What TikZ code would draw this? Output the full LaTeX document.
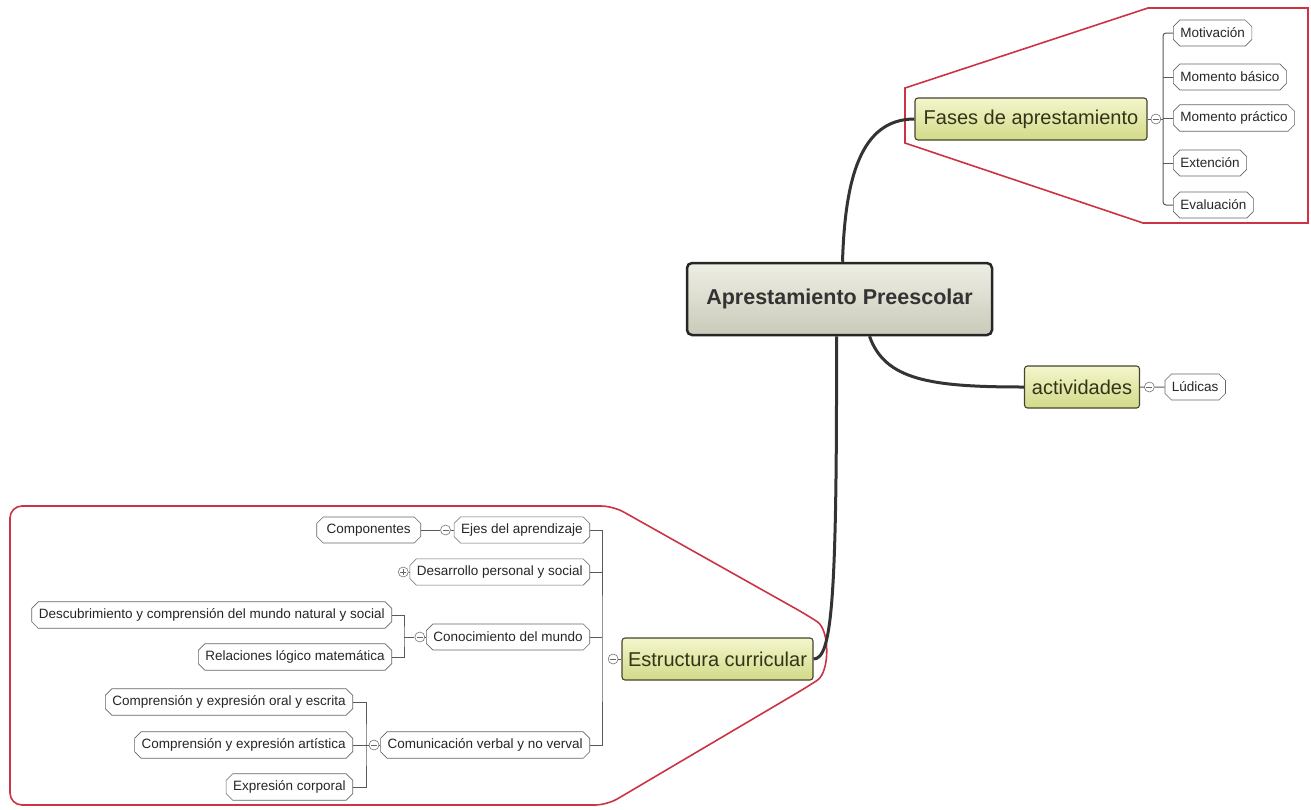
\documentclass[tikz,border=0pt]{standalone}
\usepackage{fontspec}
\setmainfont{Liberation Sans}
\usetikzlibrary{positioning}
\usetikzlibrary{shapes.misc, calc}
\definecolor{redline}{HTML}{CC3344}
\definecolor{olivetext}{HTML}{33331A}
\definecolor{maintop}{HTML}{F4F6CC}
\definecolor{mainbottom}{HTML}{D2DA88}
\definecolor{roottop}{HTML}{EEEEE4}
\definecolor{rootbottom}{HTML}{CACABA}

\begin{document}
\begin{tikzpicture}[x=1pt,y=-1pt,semithick]
 \tikzstyle{root node}=[rectangle,rounded corners=5pt,draw=black!85,line width=2.5pt,top color=roottop,bottom color=rootbottom,text=black!80,font=\bfseries\fontsize{21.5}{26}\selectfont,minimum height=72pt,minimum width=305pt]
 \tikzstyle{main node}=[rectangle,rounded corners=3pt,draw=black!65!olive,line width=1.1pt,top color=maintop,bottom color=mainbottom,text=olivetext,font=\fontsize{20}{24}\selectfont,minimum height=42pt]
 \tikzstyle{leaf node}=[chamfered rectangle,chamfered rectangle xsep=3pt,draw=black!60,fill=white,text=black!85,font=\fontsize{13.5}{16}\selectfont,inner xsep=4pt,minimum height=26pt]
 \tikzset{
 	minus node/.style={circle,draw=black!55,fill=white,inner sep=0,minimum size=10pt,
 	  path picture={\draw[black!60] ([xshift=2pt]path picture bounding box.west) -- ([xshift=-2pt]path picture bounding box.east);}},
 	plus node/.style={minus node,
 	  path picture={\draw[black!60] ([xshift=2pt]path picture bounding box.west) -- ([xshift=-2pt]path picture bounding box.east)
 	    ([yshift=-2pt]path picture bounding box.north) -- ([yshift=2pt]path picture bounding box.south);}},
 	branch/.style={draw=black!65,line width=1pt},
 	trunk/.style={draw=black!80,line width=3pt},
 	group line/.style={draw=redline,line width=1.6pt}
 }
 \useasboundingbox (0,0) rectangle (1311,809);

       \draw[group line] (905,143) -- (905,88) -- (1148,8) -- (1308,8) -- (1308,223) -- (1143,223) -- cycle;
       \draw[group line,rounded corners=12pt] (613,506) -- (10,506) -- (10,805) -- (607,805) -- (807,687)
          .. controls (830,672) and (830,630) .. (807,615) -- cycle;

       \node[root node] (root) at (839.5,299) {Aprestamiento Preescolar};
       \node[main node,minimum width=232pt] (fases) at (1031,119) {Fases de aprestamiento};
       \node[main node,minimum width=115pt] (activ) at (1082,387) {actividades};
       \node[main node,minimum width=191pt] (estruc) at (717.5,659) {Estructura curricular};

       \node[minus node] (mf) [right=3pt of fases] {};
       \node[minus node] (ma) [right=4pt of activ] {};
       \node[minus node] (me) [left=3pt of estruc] {};

       \node[leaf node,anchor=west] (f1) at (1173,33) {Motivación};
       \node[leaf node,anchor=west] (f2) at (1173,77) {Momento básico};
       \node[leaf node,anchor=west] (f3) at (1173,118) {Momento práctico};
       \node[leaf node,anchor=west] (f4) at (1173,163) {Extención};
       \node[leaf node,anchor=west] (f5) at (1173,205) {Evaluación};
       \node[leaf node] (lud) [right=10pt of ma] {Lúdicas};

       \node[leaf node,anchor=east] (ejes) at (590,530) {Ejes del aprendizaje};
       \node[leaf node,anchor=east] (desa) at (590,572) {Desarrollo personal y social};
       \node[leaf node,anchor=east] (cono) at (590,637) {Conocimiento del mundo};
       \node[leaf node,anchor=east] (comu) at (590,745) {Comunicación verbal y no verval};

       \node[minus node] (mej) [left=3pt of ejes] {};
       \node[plus node] (mde) [left=1pt of desa] {};
       \node[minus node] (mco) [left=1pt of cono] {};
       \node[minus node] (mcm) [left=1pt of comu] {};

       \node[leaf node,anchor=east,minimum width=104pt] (compo) at (421,530) {Componentes};
       \node[leaf node,anchor=east] (desc) at (392,615) {Descubrimiento y comprensión del mundo natural y social};
       \node[leaf node,anchor=east] (rela) at (392,657) {Relaciones lógico matemática};
       \node[leaf node,anchor=east] (oral) at (353,702) {Comprensión y expresión oral y escrita};
       \node[leaf node,anchor=east] (arti) at (353,745) {Comprensión y expresión artística};
       \node[leaf node,anchor=east] (corp) at (353,787) {Expresión corporal};

       \coordinate (fb) at (1163,119);
       \coordinate (eb) at (602,659);
       \coordinate (cb) at (404,637);
       \coordinate (mb) at (366,745);

     \draw[trunk] ([xshift=3pt]root.north) .. controls (845,180) and (860,119) .. (fases.west);
     \draw[trunk] ([xshift=30pt]root.south) .. controls (885,380) and (930,387) .. (activ.west);
     \draw[trunk] ([xshift=-3pt]root.south) .. controls (837,600) and (832,659) .. (estruc.east);

     \draw[branch] (fases) -- (mf) -- (fb);
     \draw[branch,rounded corners=3pt] (f1.west) -| (fb) |- (f5.west);
     \draw[branch] (f2.west) -- (f2.west -| fb);
     \draw[branch] (f3.west) -- (f3.west -| fb);
     \draw[branch] (f4.west) -- (f4.west -| fb);

     \draw[branch] (activ) -- (ma) -- (lud);

     \draw[branch] (estruc) -- (me);
     \draw[branch] (ejes.east) -| (eb) |- (comu.east);
     \draw[branch] (desa.east) -- (desa.east -| eb);
     \draw[branch] (cono.east) -- (cono.east -| eb);

     \draw[branch] (compo.east) -- (mej) -- (ejes.west);
     \draw[branch] (mde) -- (desa.west);
     \draw[branch] (desc.east) -| (cb) |- (rela.east);
     \draw[branch] (cb) -- (mco) -- (cono.west);
     \draw[branch] (oral.east) -| (mb) |- (corp.east);
     \draw[branch] (arti.east) -- (mb) -- (mcm) -- (comu.west);
 \end{tikzpicture}
\end{document}
